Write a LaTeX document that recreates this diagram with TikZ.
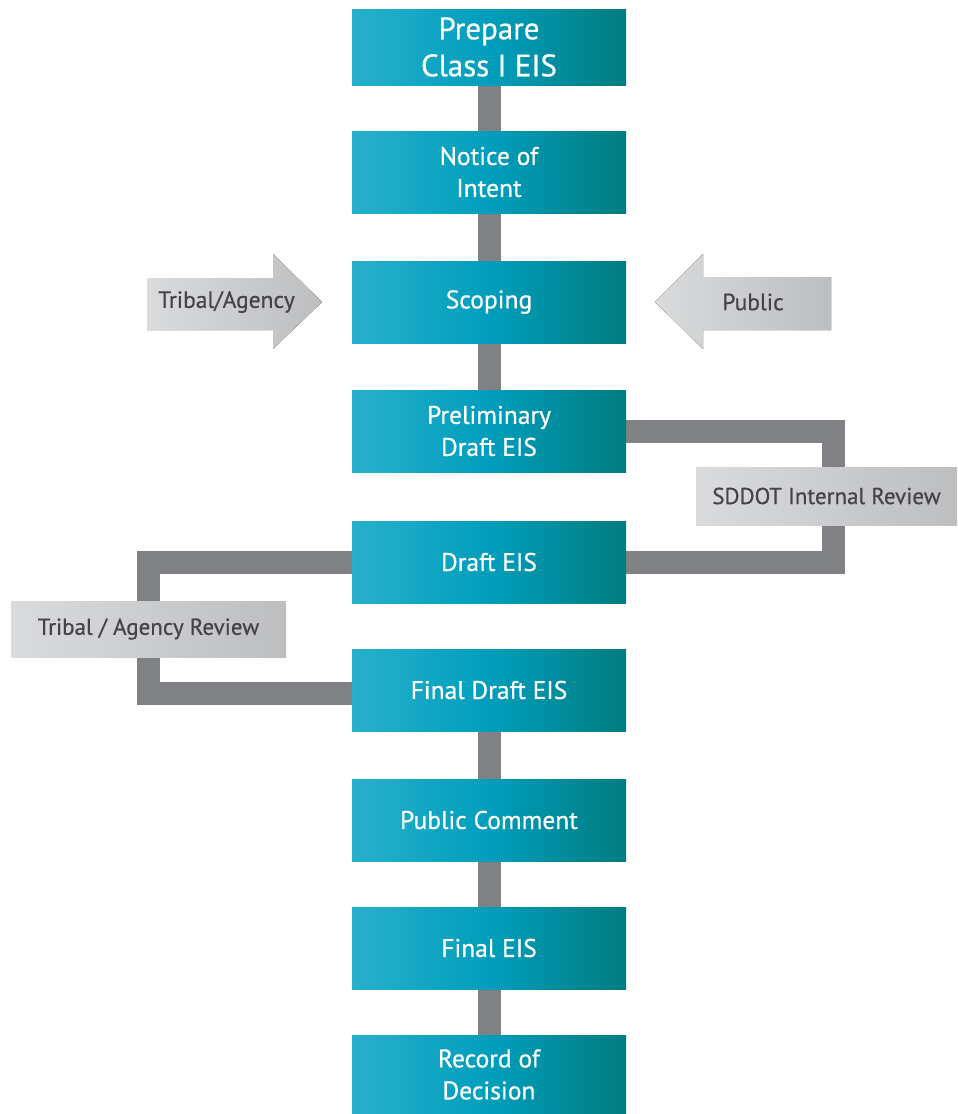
\documentclass[tikz,border=0pt]{standalone}
\usepackage{fontspec}
\setmainfont{PT Sans}
\newfontfamily\medfont{PT Sans}[FakeBold=0.5]
\usetikzlibrary{backgrounds}
\definecolor{tealL}{RGB}{40,176,204}
\definecolor{tealM}{RGB}{0,158,188}
\definecolor{tealR}{RGB}{0,124,127}
\definecolor{connGray}{RGB}{128,129,132}
\definecolor{grayL}{RGB}{218,219,220}
\definecolor{grayR}{RGB}{188,190,192}
\definecolor{grayText}{RGB}{68,68,70}
\tikzset{
  stepbox/.style={rectangle, inner sep=0pt, minimum width=274pt, minimum height=82pt,
    left color=tealL, right color=tealR, middle color=tealM, text=white, align=center,
    font=\medfont\fontsize{25.5}{32}\selectfont},
  reviewbox/.style={rectangle, inner sep=0pt, left color=grayL, right color=grayR,
    text=grayText, font=\medfont\fontsize{23}{27}\selectfont},
  arrowfill/.style={left color=grayL, right color=grayR},
  arrowtext/.style={inner sep=0pt, text=grayText, font=\medfont\fontsize{23.5}{27}\selectfont},
  conn/.style={draw=connGray, line width=23pt, line cap=butt, line join=miter},
}
\begin{document}
\begin{tikzpicture}[x=1pt,y=1pt]
\useasboundingbox (0,0) rectangle (958,-1114);
% main steps
\node[stepbox, minimum height=76pt, font=\medfont\fontsize{31}{37}\selectfont] (prep) at (489,-47) {Prepare\\Class I EIS};
\node[stepbox] (noi) at (489,-172) {Notice of\\Intent};
\node[stepbox] (scop) at (489,-302) {Scoping};
\node[stepbox] (prelim) at (489,-431) {Preliminary\\Draft EIS};
\node[stepbox] (draft) at (489,-562) {Draft EIS};
\node[stepbox] (fdraft) at (489,-690) {Final Draft EIS};
\node[stepbox] (pubc) at (489,-820) {Public Comment};
\node[stepbox] (feis) at (489,-948) {Final EIS};
\node[stepbox, minimum height=79pt] (rod) at (489,-1074.5) {Record of\\Decision};
% review boxes
\node[reviewbox, minimum width=261pt, minimum height=58pt] (sddot) at (826.5,-496) {SDDOT Internal Review};
\node[reviewbox, minimum width=275pt, minimum height=56pt] (trev) at (148.5,-629) {Tribal / Agency Review};
% input arrows
\fill[arrowfill] (147,-278) -- (273,-278) -- (273,-254) -- (322,-302) -- (273,-349) -- (273,-330) -- (147,-330) -- cycle;
\node[arrowtext] (tribin) at (226.5,-302) {Tribal/Agency};
\fill[arrowfill] (831,-277) -- (703,-277) -- (703,-254) -- (655,-302) -- (703,-349) -- (703,-330) -- (831,-330) -- cycle;
\node[arrowtext] (pubin) at (753,-302) {Public};
% connectors
\coordinate (rloop) at (833,-496);
\coordinate (lloop) at (148.5,-629);
\begin{scope}[on background layer]
\draw[conn] (prep.south) -- (noi.north);
\draw[conn] (noi.south) -- (scop.north);
\draw[conn] (scop.south) -- (prelim.north);
\draw[conn] (fdraft.south) -- (pubc.north);
\draw[conn] (pubc.south) -- (feis.north);
\draw[conn] (feis.south) -- (rod.north);
\draw[conn] (prelim.east) -| (rloop) |- (draft.east);
\draw[conn] (draft.west) -| (lloop) |- ([yshift=-3pt]fdraft.west);
\end{scope}
\end{tikzpicture}
\end{document}
